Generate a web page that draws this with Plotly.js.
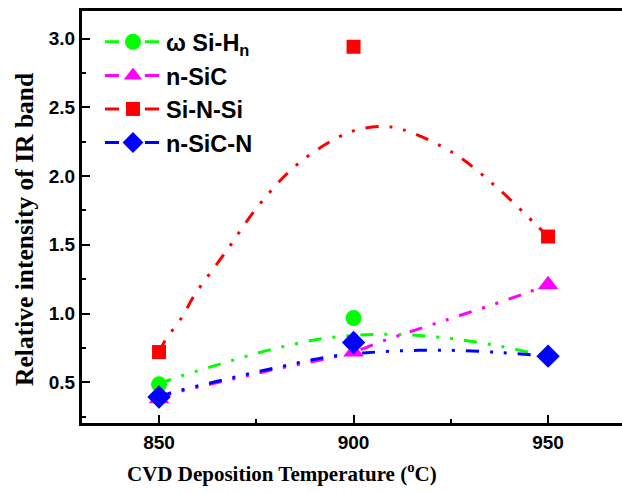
<!DOCTYPE html>
<html>
<head>
<meta charset="utf-8">
<script src="https://cdn.plot.ly/plotly-3.0.1.min.js"></script>
<style>html,body{margin:0;padding:0;background:#fff;}#chart{width:622px;height:493px;}</style>
</head>
<body>
<div id="chart"></div>
<script>
// Measured data points
const temps = [850, 900, 950];
const siHn   = [0.485, 0.967, 0.69];
const nSiC   = [0.38, 0.72, 1.21];
const siNSi  = [0.72, 2.94, 1.56];
const nSiCN  = [0.393, 0.789, 0.69];

// Smoothed guide curves
const fitRedX   = [850, 851.5, 856.2, 858.8, 867.4, 876, 886.2, 899.1, 907.7, 912.8, 925.7, 937.2, 947.1, 950];
const fitRedY   = [0.72, 0.80, 0.987, 1.12, 1.459, 1.80, 2.10, 2.32, 2.36, 2.336, 2.166, 1.908, 1.64, 1.56];
const fitGreenX = [850, 852.4, 866.1, 879.8, 894, 908.5, 923.1, 937.7, 948, 950];
const fitGreenY = [0.485, 0.515, 0.636, 0.745, 0.825, 0.849, 0.825, 0.762, 0.70, 0.69];
const fitBlueX  = [850, 852.4, 866.1, 880.2, 894.4, 909, 923.5, 938.1, 950];
const fitBlueY  = [0.393, 0.418, 0.515, 0.607, 0.689, 0.725, 0.733, 0.716, 0.69];
const fitMagX   = [850, 852.4, 866.1, 880.2, 894.4, 900, 908.5, 922.2, 936.3, 945, 950];
const fitMagY   = [0.38, 0.41, 0.505, 0.597, 0.68, 0.72, 0.81, 0.938, 1.07, 1.156, 1.21];

const names = ['\u03c9 Si-H<sub>n</sub>', 'n-SiC', 'Si-N-Si', 'n-SiC-N'];
const colors = ['#00ff00', '#ff00ff', '#ff0000', '#0000ff'];
const symbols = ['circle', 'triangle-up', 'square', 'diamond'];
const sizes = [16, 18, 14, 18];

const dashPat = '13px,11px,3px,11px,3px,11px';
function curve(x, y, c) {
  return {x: x, y: y, mode: 'lines', type: 'scatter', showlegend: false, hoverinfo: 'skip',
          line: {color: c, width: 3, dash: dashPat, shape: 'spline', smoothing: 1}};
}
function pts(y, i) {
  return {x: temps, y: y, mode: 'markers', type: 'scatter', showlegend: false,
          marker: {color: colors[i], symbol: symbols[i], size: sizes[i]}};
}
function leg(i) {
  return {x: [null], y: [null], mode: 'lines+markers', type: 'scatter', name: names[i],
          line: {color: colors[i], width: 3, dash: '14px,26px'},
          marker: {color: colors[i], symbol: symbols[i], size: sizes[i]}};
}

const data = [
  curve(fitGreenX, fitGreenY, colors[0]),
  curve(fitMagX, fitMagY, colors[1]),
  curve(fitRedX, fitRedY, colors[2]),
  curve(fitBlueX, fitBlueY, colors[3]),
  pts(siHn, 0), pts(nSiC, 1), pts(siNSi, 2), pts(nSiCN, 3),
  leg(0), leg(1), leg(2), leg(3)
];

const tickFont = {family: 'Liberation Sans, Arial, sans-serif', size: 19, color: '#000', weight: 'bold'};
const layout = {
  width: 622, height: 493,
  margin: {l: 82, r: 0, t: 11, b: 70},
  paper_bgcolor: '#fff', plot_bgcolor: '#fff',
  showlegend: true,
  legend: {x: 0.0333, y: 0.978, xanchor: 'left', yanchor: 'top', bgcolor: 'rgba(0,0,0,0)',
           font: {family: 'Liberation Sans, Arial, sans-serif', size: 23.5, color: '#000', weight: 'bold'},
           itemwidth: 56, tracegroupgap: 0},
  xaxis: {range: [830.2, 969], showgrid: false, zeroline: false, showline: true, linewidth: 3, linecolor: '#000',
          mirror: true, ticks: 'inside', ticklen: 8, tickwidth: 2, tickcolor: '#000',
          tickvals: temps, ticktext: temps.map(String), tickfont: tickFont,
          minor: {dtick: 25, tick0: 850, ticks: 'inside', ticklen: 4, tickwidth: 2, tickcolor: '#000'}},
  yaxis: {range: [0.204, 3.2], showgrid: false, zeroline: false, showline: true, linewidth: 3, linecolor: '#000',
          ticks: 'inside', ticklen: 8, tickwidth: 2, tickcolor: '#000',
          tick0: 0.5, dtick: 0.5, tickformat: '.1f', tickfont: tickFont,
          minor: {dtick: 0.25, tick0: 0.25, ticks: 'inside', ticklen: 4, tickwidth: 2, tickcolor: '#000'}},
  annotations: [
    {text: 'CVD Deposition Temperature (<sup>o</sup>C)', xref: 'paper', yref: 'paper', x: 0.37, y: -0.121,
     xanchor: 'center', yanchor: 'middle', showarrow: false,
     font: {family: 'Liberation Serif, Times New Roman, serif', size: 21, color: '#000', weight: 'bold'}},
    {text: 'Relative intensity of IR band', xref: 'paper', yref: 'paper', x: -0.1056, y: 0.471,
     xanchor: 'center', yanchor: 'middle', showarrow: false, textangle: -90,
     font: {family: 'Liberation Serif, Times New Roman, serif', size: 25.5, color: '#000', weight: 'bold'}}
  ]
};
Plotly.newPlot('chart', data, layout, {displayModeBar: false, staticPlot: true});
</script>
</body>
</html>
